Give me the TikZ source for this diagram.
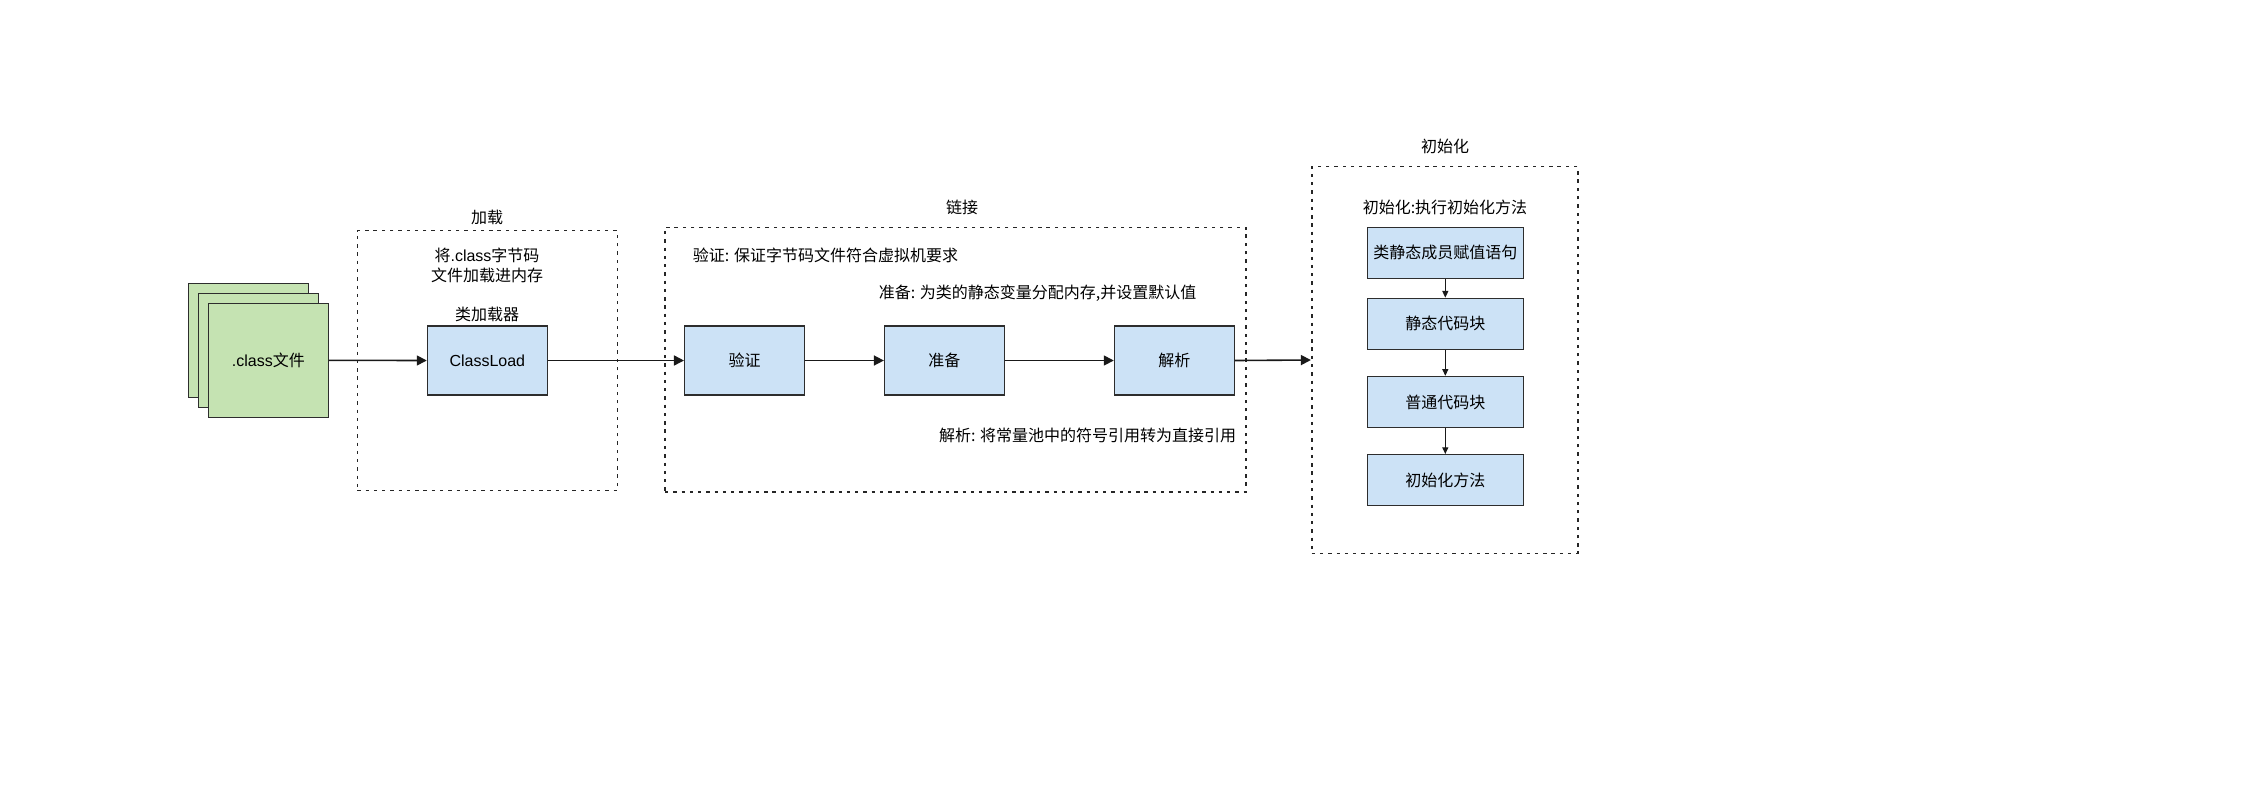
\documentclass[tikz,border=0pt]{standalone}
\usepackage{fontspec}
\setmainfont{Liberation Sans}
\newfontfamily\cjk{Noto Sans CJK SC}
\usetikzlibrary{arrows.meta}
\definecolor{gfill}{RGB}{197,227,178}
\definecolor{bfill}{RGB}{204,226,246}
\definecolor{edge}{RGB}{45,45,45}
\begin{document}
\begin{tikzpicture}[x=0.75pt,y=-0.75pt,
  font=\fontsize{12pt}{15pt}\selectfont,
  every node/.style={inner sep=0pt},
  file/.style={draw=edge, line width=0.8pt, fill=gfill, minimum width=90pt, minimum height=85.5pt},
  box/.style={draw=edge, line width=0.8pt, fill=bfill, minimum width=90pt, minimum height=51.75pt},
  ibox/.style={draw=edge, line width=0.8pt, fill=bfill, minimum width=117pt, minimum height=38.5pt},
  group/.style={draw=black!85, line width=1.2pt, dash pattern=on 2.5pt off 3.7pt},
  conn/.style={draw=black!90, line width=1.2pt, -{Triangle[length=7.5pt,width=7.5pt]}},
  sconn/.style={draw=black!90, line width=0.9pt, -{Triangle[length=5pt,width=4.5pt]}},
  lbl/.style={font=\cjk\fontsize{12pt}{15pt}\selectfont, align=center}
]
\useasboundingbox (0,0) rectangle (2245,794);

% group frames
\node[group, minimum width=195pt, minimum height=195pt] (gload) at (487.3,360.6) {};
\node[group, minimum width=435.75pt, minimum height=198.3pt] (glink) at (955.5,359.5) {};
\node[group, minimum width=199.5pt, minimum height=290pt] (ginit) at (1444.7,360) {};

\node[lbl] (tload) at (487,217) {加载};
\node[lbl] (tlink) at (962,207.5) {链接};
\node[lbl] (tinit) at (1445,146) {初始化};

% class files
\node[file] (f3) at (248.3,340.3) {};
\node[file] (f2) at (258.3,350.3) {};
\node[file] (f1) at (268.3,360.3) {.class{\cjk 文件}};

% load
\node[lbl, font=\fontsize{12pt}{15pt}\selectfont] (tdesc) at (487,265) {{\cjk 将}.class{\cjk 字节码}\\{\cjk 文件加载进内存}};
\node[lbl] (tcl) at (487,314) {类加载器};
\node[box] (cl) at (487.3,360.5) {ClassLoad};

% link
\node[box] (verify) at (744.5,360.5) {\cjk 验证};
\node[box] (prep) at (944.4,360.5) {\cjk 准备};
\node[box] (resolve) at (1174.3,360.5) {\cjk 解析};
\node[lbl, anchor=west] (tverify) at (692.7,255) {验证: 保证字节码文件符合虚拟机要求};
\node[lbl, anchor=west] (tprep) at (878.5,293.5) {准备: 为类的静态变量分配内存,并设置默认值};
\node[lbl, anchor=east] (tres) at (1236.5,435) {解析: 将常量池中的符号引用转为直接引用};

% init
\node[lbl] (tinitd) at (1445,207.5) {初始化:执行初始化方法};
\node[ibox] (i1) at (1445.3,252.8) {\cjk 类静态成员赋值语句};
\node[ibox] (i2) at (1445.3,323.8) {\cjk 静态代码块};
\node[ibox] (i3) at (1445.3,402) {\cjk 普通代码块};
\node[ibox] (i4) at (1445.3,480.2) {\cjk 初始化方法};

% connectors
\draw[conn] (f1.east) -- (cl.west);
\draw[conn] (cl.east) -- (verify.west);
\draw[conn] (verify.east) -- (prep.west);
\draw[conn] (prep.east) -- (resolve.west);
\draw[conn] (resolve.east) -- (ginit.west);
\draw[sconn] (i1.south) -- (i2.north);
\draw[sconn] (i2.south) -- (i3.north);
\draw[sconn] (i3.south) -- (i4.north);
\end{tikzpicture}
\end{document}
